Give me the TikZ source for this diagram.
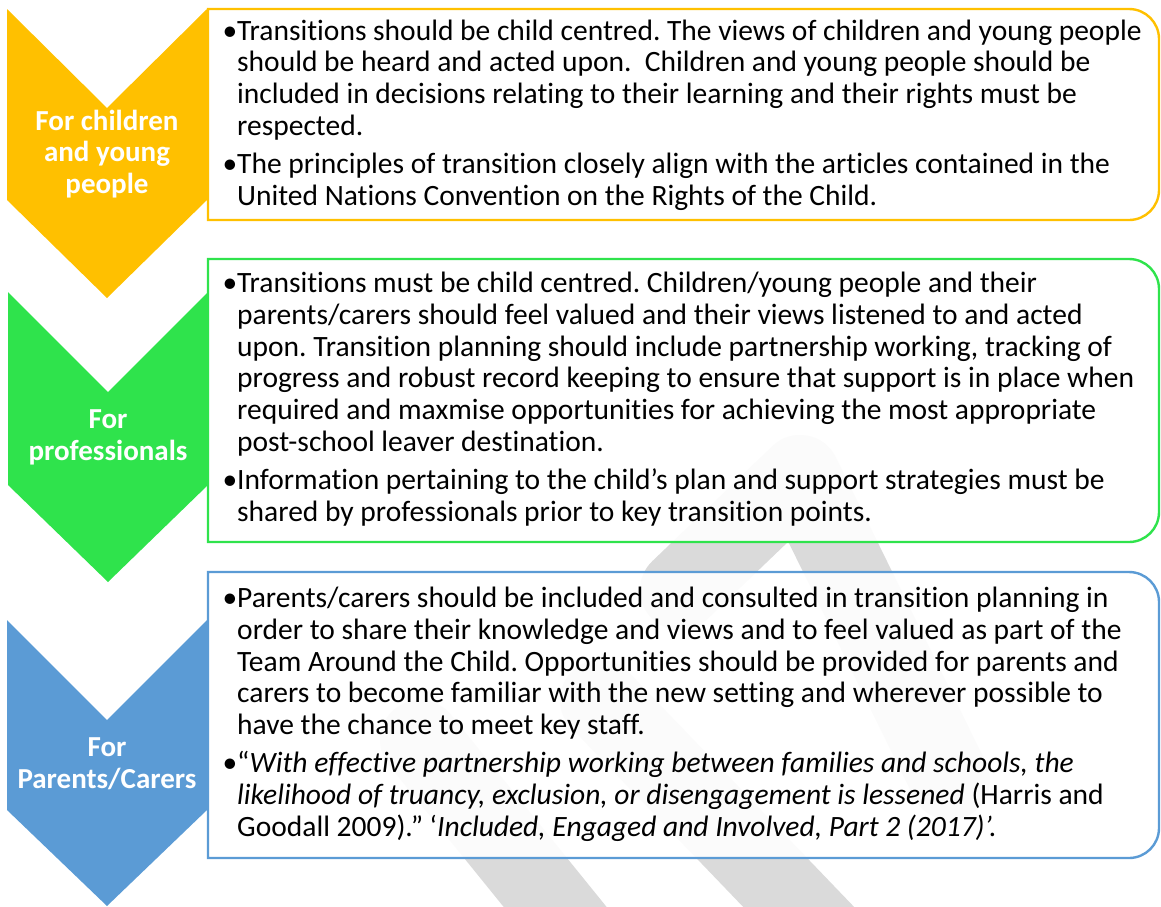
\documentclass[tikz,border=0pt]{standalone}
\usepackage{fontspec}
\setmainfont{Carlito}[Ligatures={NoCommon,NoContextual,NoRare}]
\definecolor{chyellow}{HTML}{FFC000}
\definecolor{chgreen}{HTML}{2FE34C}
\definecolor{chblue}{HTML}{5B9BD5}
\definecolor{wmark}{HTML}{DADADA}
\newcommand{\bul}{\llap{•}}

\begin{document}
\begin{tikzpicture}[
		x=1pt, y=-1pt,
		box/.style={line width=2.4pt, fill=white, fill opacity=0.9},
		lbl/.style={text=white, font=\fontsize{29}{31.5}\selectfont\bfseries, align=center, anchor=base, inner sep=0pt},
		txt/.style={font=\fontsize{29.5}{31.7}\selectfont\frenchspacing, align=left, anchor=base west, inner sep=0pt},
		band/.style={draw=wmark, line width=80pt, line cap=round, line join=round}
	]
		\useasboundingbox (0,0) rectangle (1161,906);
		\draw[band] (680,590) -- (800,475) -- (950,780);
		\draw[band] (600,700) -- (840,950);
		\draw[band] (420,740) -- (590,950);

		\fill[chyellow] (7,9) -- (107,108) -- (207,9) -- (207,200) -- (107,298) -- (7,200) -- cycle;
		\fill[chgreen] (8,292) -- (108,392) -- (208,292) -- (208,485) -- (108,582) -- (8,485) -- cycle;
		\fill[chblue] (7,620) -- (107,720) -- (207,620) -- (207,810) -- (107,906) -- (7,810) -- cycle;

		\draw[box, draw=chyellow] (208,9) -- (1129,9) arc[start angle=-90, end angle=0, radius=30]
			-- (1159,190) arc[start angle=0, end angle=90, radius=30] -- (208,220) -- cycle;
		\draw[box, draw=chgreen] (208,259) -- (1129,259) arc[start angle=-90, end angle=0, radius=30]
			-- (1159,512) arc[start angle=0, end angle=90, radius=30] -- (208,542) -- cycle;
		\draw[box, draw=chblue] (208,572) -- (1129,572) arc[start angle=-90, end angle=0, radius=30]
			-- (1159,828) arc[start angle=0, end angle=90, radius=30] -- (208,858) -- cycle;

		% base anchor = last line
		\node[lbl] (l1) at (107,193) {For children\\and young\\people};
		\node[lbl] (l2) at (108,460) {For\\professionals};
		\node[lbl] (l3) at (107,788) {For\\Parents/Carers};

		\node[txt] (t1) at (237,205) {\bul Transitions should be child centred. The views of children and young people\\
			should be heard and acted upon.~ Children and young people should be\\
			included in decisions relating to their learning and their rights must be\\
			respected.\\[6.3pt]
			\bul The principles of transition closely align with the articles contained in the\\
			United Nations Convention on the Rights of the Child.};
		\node[txt] (t2) at (237,521) {\bul Transitions must be child centred. Children/young people and their\\
			parents/carers should feel valued and their views listened to and acted\\
			upon. Transition planning should include partnership working, tracking of\\
			progress and robust record keeping to ensure that support is in place when\\
			required and maxmise opportunities for achieving the most appropriate\\
			post-school leaver destination.\\[6.3pt]
			\bul Information pertaining to the child’s plan and support strategies must be\\
			shared by professionals prior to key transition points.};
		\node[txt] (t3) at (237,836) {\bul Parents/carers should be included and consulted in transition planning in\\
			order to share their knowledge and views and to feel valued as part of the\\
			Team Around the Child. Opportunities should be provided for parents and\\
			carers to become familiar with the new setting and wherever possible to\\
			have the chance to meet key staff.\\[6.3pt]
			\bul “\textit{With effective partnership working between families and schools, the}\\
			\textit{likelihood of truancy, exclusion, or disengagement is lessened} (Harris and\\
			Goodall 2009).” ‘\textit{Included, Engaged and Involved, Part 2 (2017)’.}};
\end{tikzpicture}
\end{document}
